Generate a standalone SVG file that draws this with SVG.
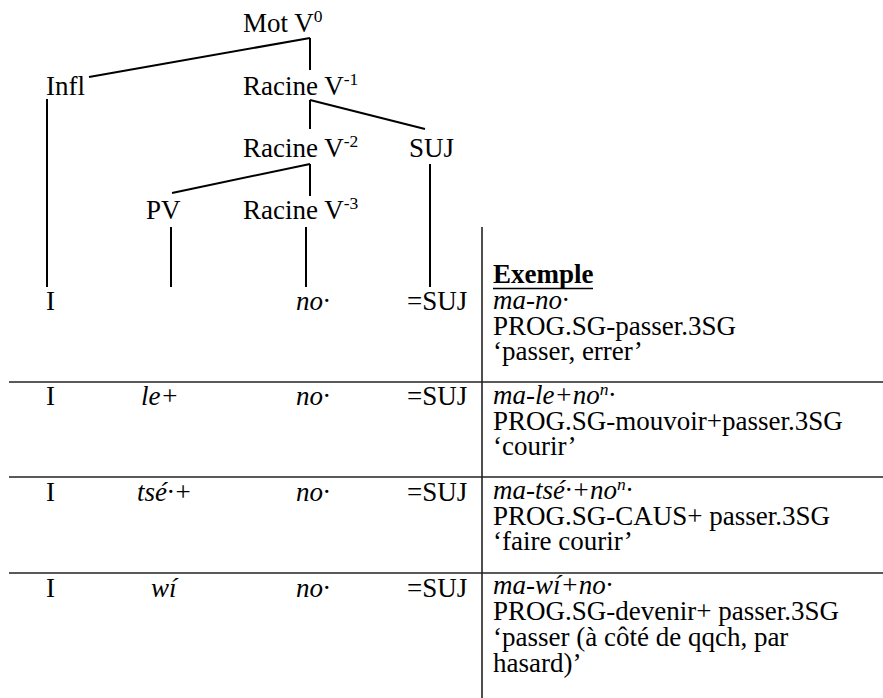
<svg xmlns="http://www.w3.org/2000/svg" width="883" height="698" viewBox="0 0 883 698">
<style>
text{font-family:"Liberation Serif","Times New Roman",serif;font-size:27px;fill:#000}
.i{font-style:italic}
.sup{font-size:17.5px}
.b{font-weight:bold}
.tree line{stroke:#000;stroke-width:2}
.grid line{stroke:#222;stroke-width:1.6}
</style>
<rect width="883" height="698" fill="#fff"/>
<g id="connectors" class="tree">
<line x1="310" y1="38" x2="310" y2="70"/>
<line x1="310" y1="38" x2="89" y2="77"/>
<line x1="310" y1="100" x2="310" y2="129"/>
<line x1="310" y1="100" x2="425" y2="129"/>
<line x1="310" y1="164" x2="310" y2="196"/>
<line x1="310" y1="164" x2="172" y2="193"/>
<line x1="47" y1="99" x2="47" y2="287"/>
<line x1="171" y1="227" x2="171" y2="287"/>
<line x1="306" y1="227" x2="306" y2="287"/>
<line x1="430" y1="164" x2="430" y2="287"/>
</g>
<g id="n-mot"><text x="243" y="32">Mot V<tspan class="sup" dy="-10">0</tspan></text></g>
<g id="n-infl"><text x="46" y="95">Infl</text></g>
<g id="n-racine1"><text x="243" y="95">Racine V<tspan class="sup" dy="-10">-1</tspan></text></g>
<g id="n-racine2"><text x="243" y="157">Racine V<tspan class="sup" dy="-10">-2</tspan></text></g>
<g id="n-suj"><text x="409" y="157">SUJ</text></g>
<g id="n-pv"><text x="146" y="219">PV</text></g>
<g id="n-racine3"><text x="243" y="219">Racine V<tspan class="sup" dy="-10">-3</tspan></text></g>
<g id="grid" class="grid">
<line x1="482" y1="227" x2="482" y2="698"/>
<line x1="9" y1="382" x2="883" y2="382"/>
<line x1="9" y1="477" x2="883" y2="477"/>
<line x1="9" y1="573" x2="883" y2="573"/>
<line x1="493" y1="288.5" x2="593" y2="288.5" style="stroke:#000;stroke-width:1.5"/>
</g>
<g id="row1">
<text x="46" y="310">I</text>
<text x="296" y="310" class="i">no·</text>
<text x="407" y="310">=SUJ</text>
<text x="493" y="283" class="b">Exemple</text>
<text x="493" y="309" class="i">ma-no·</text>
<text x="493" y="335">PROG.SG-passer.3SG</text>
<text x="493" y="360">‘passer, errer’</text>
</g>
<g id="row2">
<text x="46" y="405">I</text>
<text x="141" y="405" class="i">le+</text>
<text x="296" y="405" class="i">no·</text>
<text x="407" y="405">=SUJ</text>
<text x="493" y="404" class="i">ma-le+no<tspan class="sup" dy="-9">n</tspan><tspan dy="9">·</tspan></text>
<text x="493" y="430">PROG.SG-mouvoir+passer.3SG</text>
<text x="493" y="455">‘courir’</text>
</g>
<g id="row3">
<text x="46" y="501">I</text>
<text x="137" y="501" class="i">tsé·+</text>
<text x="296" y="501" class="i">no·</text>
<text x="407" y="501">=SUJ</text>
<text x="493" y="499" class="i">ma-tsé·+no<tspan class="sup" dy="-9">n</tspan><tspan dy="9">·</tspan></text>
<text x="493" y="525">PROG.SG-CAUS+ passer.3SG</text>
<text x="493" y="550">‘faire courir’</text>
</g>
<g id="row4">
<text x="46" y="597">I</text>
<text x="151" y="597" class="i">wí</text>
<text x="296" y="597" class="i">no·</text>
<text x="407" y="597">=SUJ</text>
<text x="493" y="594" class="i">ma-wí+no·</text>
<text x="493" y="620">PROG.SG-devenir+ passer.3SG</text>
<text x="493" y="646">‘passer (à côté de qqch, par</text>
<text x="493" y="672">hasard)’</text>
</g>
</svg>
